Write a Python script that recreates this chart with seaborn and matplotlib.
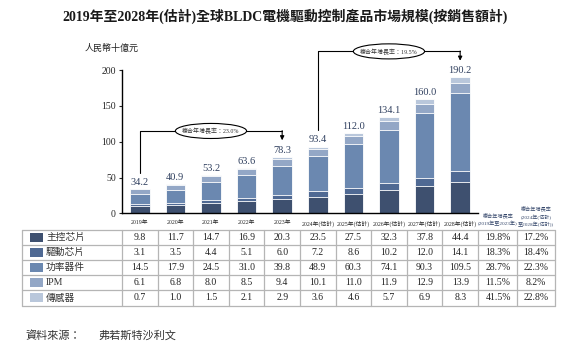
import numpy as np
import pandas as pd
import matplotlib.pyplot as plt
from matplotlib.patches import Ellipse, Rectangle
import seaborn as sns

sns.set_theme(style="white")
plt.rcParams['font.family'] = ['Liberation Serif', 'Noto Sans CJK TC', 'DejaVu Sans']

years = ["2019年", "2020年", "2021年", "2022年", "2023年",
         "2024年(估計)", "2025年(估計)", "2026年(估計)", "2027年(估計)", "2028年(估計)"]
segments = ["主控芯片", "驅動芯片", "功率器件", "IPM", "傳感器"]
main_chip = [9.8, 11.7, 14.7, 16.9, 20.3, 23.5, 27.5, 32.3, 37.8, 44.4]
driver_chip = [3.1, 3.5, 4.4, 5.1, 6.0, 7.2, 8.6, 10.2, 12.0, 14.1]
power_dev = [14.5, 17.9, 24.5, 31.0, 39.8, 48.9, 60.3, 74.1, 90.3, 109.5]
ipm = [6.1, 6.8, 8.0, 8.5, 9.4, 10.1, 11.0, 11.9, 12.9, 13.9]
sensor = [0.7, 1.0, 1.5, 2.1, 2.9, 3.6, 4.6, 5.7, 6.9, 8.3]
totals = [34.2, 40.9, 53.2, 63.6, 78.3, 93.4, 112.0, 134.1, 160.0, 190.2]
cagr_1923 = ["19.8%", "18.3%", "28.7%", "11.5%", "41.5%"]
cagr_2428 = ["17.2%", "18.4%", "22.3%", "8.2%", "22.8%"]
cagr_total = ["23.0%", "19.5%"]

colors = ["#3e506f", "#4f6993", "#6b88b0", "#93a7c6", "#b9c7db"]
series = [main_chip, driver_chip, power_dev, ipm, sensor]

df = pd.DataFrame({"year": years})
cum = np.cumsum(np.array(series), axis=0)

fig = plt.figure(figsize=(5.7, 3.51), dpi=100)
ax = fig.add_axes([0.214, 0.392, 0.6245, 0.4085])

# stacked bars: draw cumulative totals from top layer down
for i in reversed(range(len(series))):
    df["v"] = cum[i]
    sns.barplot(data=df, x="year", y="v", color=colors[i], width=0.55,
                edgecolor="white", linewidth=0.6, saturation=1, ax=ax)

for i, t in enumerate(totals):
    ax.text(i, t + 3, f"{t:.1f}", ha="center", va="bottom", fontsize=7.5, color="#2f3f5e")

ax.set_xlim(-0.5, 9.5)
ax.set_ylim(0, 200)
ax.set_yticks([0, 50, 100, 150, 200])
ax.tick_params(axis="y", labelsize=7, length=2.5, width=0.8, pad=2, direction="out", left=True)
ax.tick_params(axis="x", labelsize=4.2, length=0, pad=5)
ax.set_xlabel("")
ax.set_ylabel("")
sns.despine(ax=ax)
for s in ["left", "bottom"]:
    ax.spines[s].set_color("black")
    ax.spines[s].set_linewidth(1.0)

# CAGR brackets
def bracket(x0, x1, y_start, y_line, y_end, label):
    ax.plot([x0, x0, x1], [y_start, y_line, y_line], color="black", lw=0.8, clip_on=False)
    ax.annotate("", xy=(x1, y_end), xytext=(x1, y_line + 0.5),
                arrowprops=dict(arrowstyle="-|>", color="black", lw=0.8, mutation_scale=6,
                                shrinkA=0, shrinkB=0), annotation_clip=False)
    cx = (x0 + x1) / 2
    ax.add_patch(Ellipse((cx, y_line), 2.0, 21, facecolor="white", edgecolor="black",
                         lw=0.8, clip_on=False, zorder=5))
    ax.text(cx, y_line, f"複合年增長率：{label}", ha="center", va="center",
            fontsize=4.3, color="#333333", zorder=6, clip_on=False)

bracket(0, 4, 56, 115, 102, cagr_total[0])
bracket(5, 9, 116, 226, 213, cagr_total[1])

# overlay in pixel coordinates for title, table and notes
ov = fig.add_axes([0, 0, 1, 1], zorder=-1)
ov.set_xlim(0, 570)
ov.set_ylim(351, 0)
ov.axis("off")

fig.text(0.5, 1 - 16 / 351, "2019年至2028年(估計)全球BLDC電機驅動控制產品市場規模(按銷售額計)",
         ha="center", va="center", fontsize=10, fontweight="bold", color="#1a1a1a")
ov.text(112, 48, "人民幣十億元", ha="center", va="center", fontsize=6.5, color="#222222")

# CAGR headers
ov.text(498, 220, "複合年增長率\n(2019年至2023年)", ha="center", va="center",
        fontsize=3.7, color="#34466a", linespacing=1.4)
ov.text(536, 217, "複合年增長率\n(2024年(估計)\n至2028年(估計))", ha="center", va="center",
        fontsize=3.7, color="#34466a", linespacing=1.4)

# table
x0, x1 = 122, 478
cw = (x1 - x0) / 10
col_edges = [22, x0] + [x0 + cw * (k + 1) for k in range(10)] + [517, 555]
top, rh = 230, 15.1
nrows = len(segments)
grid = "#b5b5b5"
for e in col_edges:
    ov.plot([e, e], [top, top + rh * nrows], color=grid, lw=0.9)
for r in range(nrows + 1):
    ov.plot([22, 555], [top + rh * r, top + rh * r], color=grid, lw=0.9)

for r, name in enumerate(segments):
    yc = top + rh * (r + 0.5)
    ov.add_patch(Rectangle((30, yc - 4.5), 12.5, 9, facecolor=colors[r], edgecolor="none"))
    ov.text(46, yc, name, ha="left", va="center", fontsize=7, color="#333333")
    for k in range(10):
        cx = x0 + cw * (k + 0.5)
        ov.text(cx, yc, f"{series[r][k]:.1f}", ha="center", va="center", fontsize=7, color="#222222")
    ov.text((479 + 517) / 2, yc, cagr_1923[r], ha="center", va="center", fontsize=7, color="#222222")
    ov.text((517 + 555) / 2, yc, cagr_2428[r], ha="center", va="center", fontsize=7, color="#222222")

ov.text(25, 336, "資料來源：", ha="left", va="center", fontsize=8, color="#333333")
ov.text(98, 336, "弗若斯特沙利文", ha="left", va="center", fontsize=8, color="#333333")

fig.savefig("out.png", dpi=100)
